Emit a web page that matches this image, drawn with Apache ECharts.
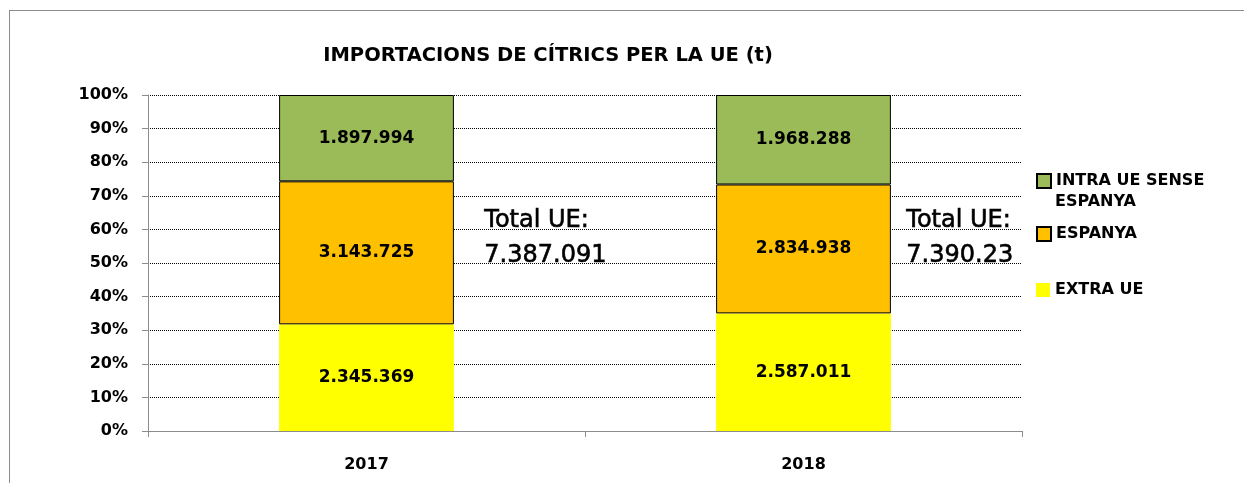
<!DOCTYPE html>
<html>
<head>
<meta http-equiv="Content-Type" content="text/html; charset=UTF-8">
<title>Importacions de cítrics</title>
<script src="https://cdn.jsdelivr.net/npm/echarts@6/dist/echarts.min.js"></script>
<style>
    html, body { margin: 0; padding: 0; background: #fff; overflow: hidden; }
    #frame { position: absolute; left: 9px; top: 10px; width: 1300px; height: 500px; border: 1px solid #8c8c8c; box-sizing: border-box; }
    #chart { position: absolute; left: 0; top: 0; width: 1244px; height: 483px; }
</style>
</head>
<body>
<div id="frame"></div>
<div id="chart"></div>
<script type="text/javascript">
    var years = ['2017', '2018'];
    var extraUE = [2345369, 2587011];
    var espanya = [3143725, 2834938];
    var intraUE = [1897994, 1968288];
    var totals = ['7.387.091', '7.390.23'];
    var yTicks = [0, 10, 20, 30, 40, 50, 60, 70, 80, 90, 100];

    function fmt(n) {
        return String(n).replace(/\B(?=(\d{3})+(?!\d))/g, '.');
    }
    function pct(arr) {
        return arr.map(function (v, i) {
            var sum = extraUE[i] + espanya[i] + intraUE[i];
            return { value: v / sum * 100, raw: v };
        });
    }

    var font = '"DejaVu Sans", sans-serif';
    var chart = echarts.init(document.getElementById('chart'));

    var labelCfg = {
        show: true,
        position: 'inside',
        fontFamily: font,
        fontWeight: 'bold',
        fontSize: 17,
        color: '#000',
        formatter: function (p) { return fmt(p.data.raw); }
    };
    var legText = { fontFamily: font, fontWeight: 'bold', fontSize: 16, color: '#000' };

    chart.setOption({
        animation: false,
        title: {
            text: 'IMPORTACIONS DE CÍTRICS PER LA UE (t)',
            left: 543,
            top: 41,
            textAlign: 'center',
            textStyle: { fontFamily: font, fontWeight: 'bold', fontSize: 19.5, color: '#000' }
        },
        legend: [{
            data: ['INTRA UE SENSE ESPANYA'],
            left: 1031, top: 168, icon: 'rect', itemWidth: 14, itemHeight: 14,
            formatter: function () { return 'INTRA UE SENSE'; },
            textStyle: legText
        }, {
            data: ['ESPANYA'],
            left: 1031, top: 221, icon: 'rect', itemWidth: 14, itemHeight: 14,
            textStyle: legText
        }, {
            data: ['EXTRA UE'],
            left: 1031, top: 277, icon: 'rect', itemWidth: 14, itemHeight: 14,
            textStyle: legText
        }],
        graphic: [{
            type: 'text', left: 1055, top: 194,
            style: { text: 'ESPANYA', fontFamily: font, fontWeight: 'bold', fontSize: 16, fill: '#000' }
        }, {
            type: 'text', left: 484, top: 203,
            style: { text: 'Total UE:\n' + totals[0], fontFamily: font, fontWeight: 'normal', fontSize: 24, lineHeight: 35, fill: '#000', stroke: '#000', lineWidth: 0.6 }
        }, {
            type: 'text', left: 906, top: 203,
            style: { text: 'Total UE:\n' + totals[1], fontFamily: font, fontWeight: 'normal', fontSize: 24, lineHeight: 35, fill: '#000', stroke: '#000', lineWidth: 0.6 }
        }],
        grid: { left: 148, right: 222, top: 95, bottom: 52 },
        xAxis: {
            type: 'category',
            data: years,
            axisLine: { lineStyle: { color: '#8c8c8c', width: 1 } },
            axisTick: { show: true, length: 6, lineStyle: { color: '#8c8c8c' } },
            axisLabel: { fontFamily: font, fontWeight: 'bold', fontSize: 16, color: '#000', margin: 26 }
        },
        yAxis: {
            type: 'value',
            min: yTicks[0],
            max: yTicks[yTicks.length - 1],
            interval: yTicks[1] - yTicks[0],
            axisLine: { show: true, lineStyle: { color: '#8c8c8c', width: 1 } },
            axisTick: { show: true, length: 6, lineStyle: { color: '#8c8c8c' } },
            axisLabel: { formatter: '{value}%', fontFamily: font, fontWeight: 'bold', fontSize: 16, color: '#000', margin: 20 },
            splitLine: { lineStyle: { type: [1, 1], color: '#000', width: 1 } }
        },
        series: [{
            name: 'EXTRA UE', type: 'bar', stack: 'total', barWidth: '40%',
            data: pct(extraUE),
            itemStyle: { color: '#FFFF00' },
            label: labelCfg
        }, {
            name: 'ESPANYA', type: 'bar', stack: 'total', barWidth: '40%',
            data: pct(espanya),
            itemStyle: { color: '#FFC000', borderColor: '#000', borderWidth: 1 },
            label: labelCfg
        }, {
            name: 'INTRA UE SENSE ESPANYA', type: 'bar', stack: 'total', barWidth: '40%',
            data: pct(intraUE),
            itemStyle: { color: '#9BBB59', borderColor: '#000', borderWidth: 1 },
            label: labelCfg
        }]
    });
</script>
</body>
</html>
